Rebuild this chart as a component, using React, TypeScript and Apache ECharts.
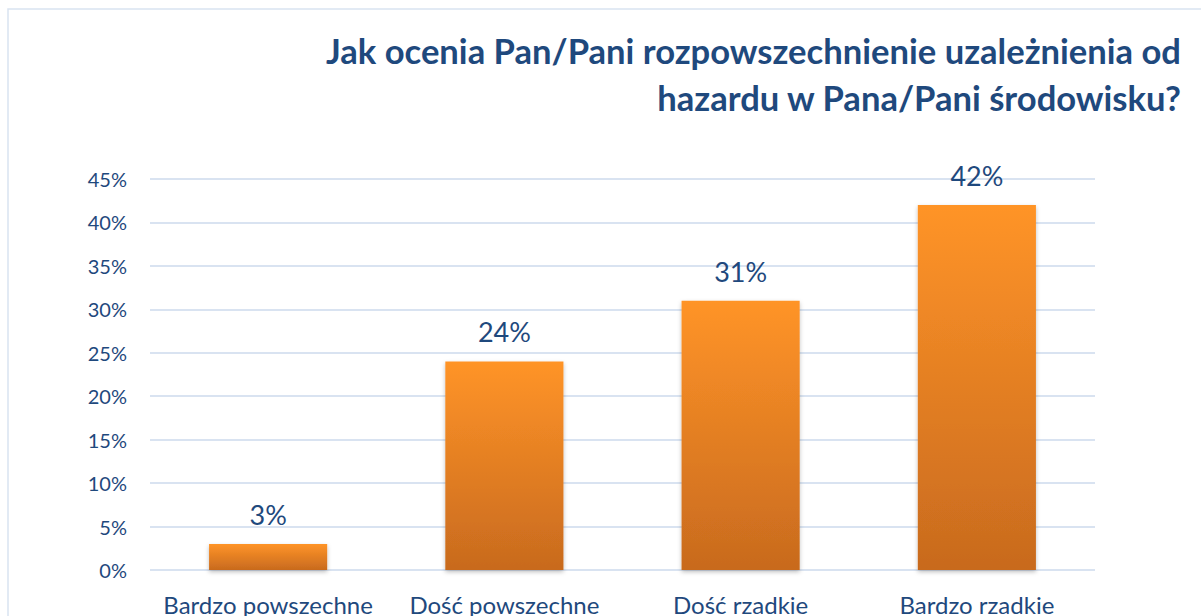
import React, { useEffect, useRef } from "react";
import * as echarts from "echarts";

const categories = ["Bardzo powszechne", "Dość powszechne", "Dość rzadkie", "Bardzo rzadkie"];
const values = [3, 24, 31, 42];
const titleLines = ["Jak ocenia Pan/Pani rozpowszechnienie uzależnienia od", "hazardu w Pana/Pani środowisku?"];

const TEXT = "#1F497D";
const FONT = "Lato, 'Open Sans', sans-serif";

export default function App() {
  const ref = useRef<HTMLDivElement>(null);
  useEffect(() => {
    if (!ref.current) return;
    const chart = echarts.init(ref.current, null, { renderer: "svg" });
    chart.setOption({
      animation: false,
      backgroundColor: "#ffffff",
      textStyle: { fontFamily: FONT },
      graphic: [
        {
          type: "rect",
          shape: { x: 8, y: 9, width: 1300, height: 700 },
          style: { fill: "none", stroke: "#D9E3F1", lineWidth: 1.5 },
          silent: true,
          z: 0,
        },
        ...titleLines.map((t, i) => ({
          type: "text",
          x: 1181,
          y: 50 + i * 47,
          style: {
            text: t,
            align: "right",
            verticalAlign: "middle",
            fill: TEXT,
            font: `bold 34.6px ${FONT}`,
          },
          silent: true,
        })),
      ],
      grid: { left: 150, right: 106, top: 179, bottom: 46, containLabel: false },
      xAxis: {
        type: "category",
        data: categories,
        axisLine: { show: false },
        axisTick: { show: false },
        axisLabel: { color: TEXT, fontSize: 24, margin: 22, interval: 0, hideOverlap: false, fontFamily: FONT },
      },
      yAxis: {
        type: "value",
        min: 0,
        max: 45,
        interval: 5,
        axisLine: { show: false },
        axisTick: { show: false },
        axisLabel: { color: TEXT, fontSize: 20, margin: 23, formatter: "{value}%", fontFamily: FONT },
        splitLine: { lineStyle: { color: "#D9E3F1", width: 2 } },
      },
      series: [
        {
          type: "bar",
          data: values,
          barWidth: "50%",
          itemStyle: {
            color: new echarts.graphic.LinearGradient(0, 0, 0, 1, [
              { offset: 0, color: "#FF9428" },
              { offset: 1, color: "#C86A1E" },
            ]),
            shadowColor: "rgba(0,0,0,0.25)",
            shadowBlur: 4,
            shadowOffsetY: 2,
          },
          label: {
            show: true,
            position: "top",
            distance: 16,
            formatter: "{c}%",
            color: TEXT,
            fontSize: 27,
            fontFamily: FONT,
          },
        },
      ],
    });
    return () => chart.dispose();
  }, []);
  return <div ref={ref} style={{ position: "absolute", left: 0, top: 0, width: 1201, height: 616 }} />;
}
